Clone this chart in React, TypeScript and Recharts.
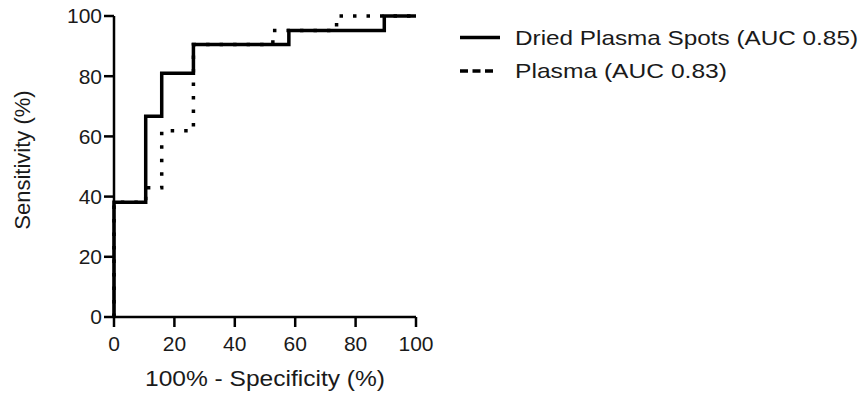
import React from 'react';
import { ComposedChart, Line, XAxis, YAxis, Legend } from 'recharts';

// ROC points (100% - specificity, sensitivity)
const dpsFpr = [0, 0, 10.5, 15.8, 26.3, 57.9, 89.5, 100];
const dpsTpr = [0, 38.1, 66.7, 81.0, 90.5, 95.2, 100, 100];
const plasmaFpr = [0, 0, 10.5, 15.8, 26.3, 52.6, 73.7, 100];
const plasmaTpr = [0, 38.1, 42.9, 61.9, 90.5, 95.2, 100, 100];

const axisTicks = [0, 20, 40, 60, 80, 100];
const seriesNames = ['Dried Plasma Spots (AUC 0.85)', 'Plasma (AUC 0.83)'];

const dpsData = dpsFpr.map((x, i) => ({ x, y: dpsTpr[i] }));
const plasmaData = plasmaFpr.map((x, i) => ({ x, y: plasmaTpr[i] }));

const FONT = '"Liberation Sans", Arial, sans-serif';
const INK = '#1a1a1a';

function RocLegend() {
  return (
    <svg width={423} height={100} style={{ display: 'block' }}>
      <line x1={20} x2={60} y1={37.5} y2={37.5} stroke="#000" strokeWidth={3.5} />
      <text x={75} y={45} fontFamily={FONT} fontSize={21} fill={INK} textLength={343} lengthAdjust="spacingAndGlyphs">
        {seriesNames[0]}
      </text>
      <line x1={20} x2={53} y1={71} y2={71} stroke="#000" strokeWidth={3.5} strokeDasharray="8 4.5" />
      <text x={75} y={78} fontFamily={FONT} fontSize={21} fill={INK} textLength={212} lengthAdjust="spacingAndGlyphs">
        {seriesNames[1]}
      </text>
    </svg>
  );
}

export default function App() {
  return (
    <div style={{ position: 'absolute', left: 0, top: 0, width: 863, height: 398, background: '#fff' }}>
      <ComposedChart width={863} height={398} margin={{ top: 16, right: 447, bottom: 0, left: 0 }}>
        <XAxis
          type="number"
          dataKey="x"
          domain={[0, 100]}
          ticks={axisTicks}
          allowDuplicatedCategory={false}
          height={81}
          tickSize={10}
          tickMargin={9}
          axisLine={{ stroke: '#000', strokeWidth: 2.5 }}
          tickLine={{ stroke: '#000', strokeWidth: 2.5 }}
          tick={{ fill: INK, fontSize: 21, fontFamily: FONT }}
          label={{
            content: () => (
              <text x={265} y={386} textAnchor="middle" fontFamily={FONT} fontSize={22} fill={INK} textLength={240} lengthAdjust="spacingAndGlyphs">
                100% - Specificity (%)
              </text>
            ),
          }}
        />
        <XAxis xAxisId="top" orientation="top" type="number" domain={[0, 100]} height={0} tick={false} tickLine={false} axisLine={{ stroke: '#000', strokeWidth: 2.5 }} />
        <YAxis
          type="number"
          domain={[0, 100]}
          ticks={axisTicks}
          width={114}
          tickSize={10}
          tickMargin={2}
          axisLine={{ stroke: '#000', strokeWidth: 2.5 }}
          tickLine={{ stroke: '#000', strokeWidth: 2.5 }}
          tick={{ fill: INK, fontSize: 21, fontFamily: FONT }}
          label={{
            content: () => (
              <text x={22} y={160} transform="rotate(-90 22 160)" textAnchor="middle" dominantBaseline="central" fontFamily={FONT} fontSize={22} fill={INK}>
                Sensitivity (%)
              </text>
            ),
          }}
        />
        <YAxis yAxisId="right" orientation="right" type="number" domain={[0, 100]} width={0} tick={false} tickLine={false} axisLine={{ stroke: '#000', strokeWidth: 2.5 }} />
        <Line
          data={plasmaData}
          dataKey="y"
          name={seriesNames[1]}
          type="stepAfter"
          stroke="#000"
          strokeWidth={3.5}
          strokeDasharray="3.5 10"
          dot={false}
          activeDot={false}
          isAnimationActive={false}
        />
        <Line
          data={dpsData}
          dataKey="y"
          name={seriesNames[0]}
          type="stepAfter"
          stroke="#000"
          strokeWidth={3.5}
          dot={false}
          activeDot={false}
          isAnimationActive={false}
        />
        <Legend
          layout="horizontal"
          verticalAlign="middle"
          align="center"
          content={() => <RocLegend />}
          wrapperStyle={{ left: 440, top: 0, width: 423, height: 100 }}
        />
      </ComposedChart>
    </div>
  );
}
